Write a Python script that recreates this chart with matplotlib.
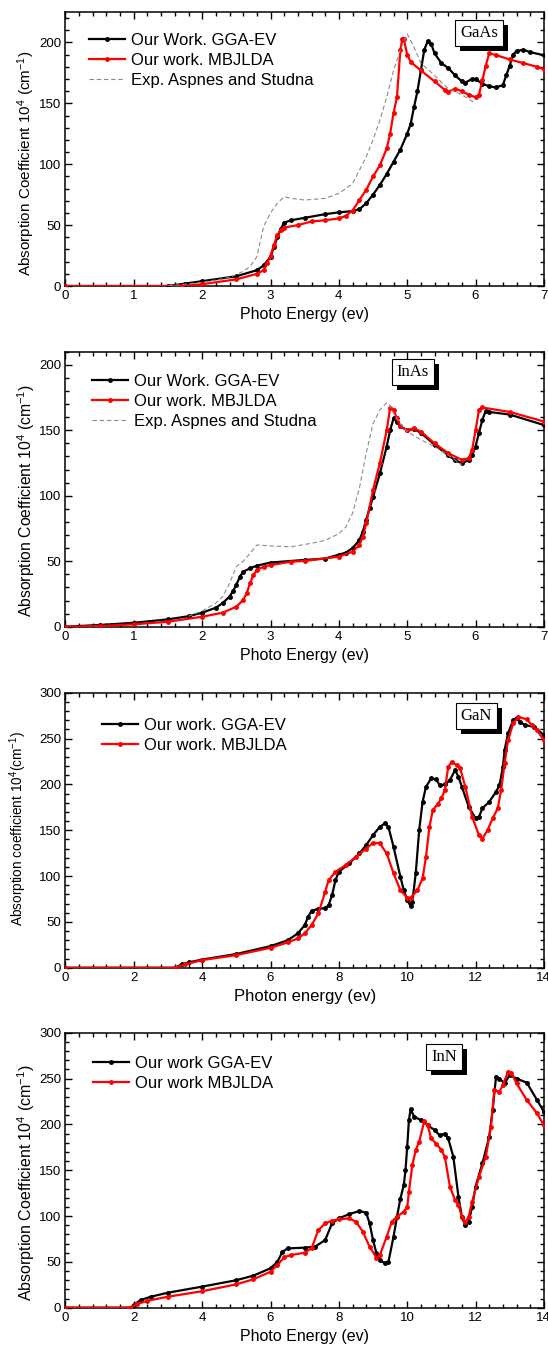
import matplotlib
matplotlib.use('Agg')
import matplotlib.pyplot as plt
from matplotlib.ticker import MultipleLocator
from matplotlib.patches import Rectangle
from matplotlib.transforms import IdentityTransform

plt.rcParams['font.family'] = ['Liberation Sans', 'DejaVu Sans']
plt.rcParams['mathtext.fontset'] = 'custom'
plt.rcParams['mathtext.rm'] = 'Liberation Sans'
plt.rcParams['mathtext.it'] = 'Liberation Sans:italic'

# ---- GaAs ----
gaas_gga_x = [0, 1.5, 1.75, 2.0, 2.5, 2.8, 2.9, 3.0, 3.05, 3.1, 3.15, 3.2, 3.3, 3.5, 3.8, 4.0, 4.2, 4.3,
              4.4, 4.5, 4.6, 4.7, 4.8, 4.9, 5.0, 5.05, 5.1, 5.15, 5.2, 5.25, 5.3, 5.35, 5.4, 5.5, 5.6,
              5.7, 5.8, 5.85, 5.95, 6.0, 6.1, 6.2, 6.3, 6.4, 6.45, 6.5, 6.55, 6.6, 6.7, 6.8, 7.0]
gaas_gga_y = [0, 0, 2, 4, 8, 13, 17, 24, 32, 40, 47, 52, 54, 56, 59, 60.5, 61.5, 63,
              68, 75, 83, 92, 102, 112, 125, 133, 147, 160, 177, 194, 201, 199, 191, 183, 179,
              173, 168, 167, 170, 170, 166, 164, 163, 165, 173, 181, 190, 193, 194, 192, 189.5]
gaas_mbj_x = [0, 1.7, 2.0, 2.5, 2.8, 2.9, 2.95, 3.0, 3.05, 3.1, 3.15, 3.2, 3.4, 3.6, 3.8, 4.0,
              4.1, 4.2, 4.3, 4.4, 4.5, 4.6, 4.7, 4.75, 4.8, 4.85, 4.9, 4.93, 4.95, 5.0, 5.05, 5.2,
              5.4, 5.55, 5.6, 5.7, 5.8, 5.9, 6.0, 6.05, 6.1, 6.15, 6.2, 6.3, 6.5, 6.7, 6.9, 7.0]
gaas_mbj_y = [0, 0, 1.5, 5.5, 10, 13, 18.5, 25, 33.6, 42, 46, 48, 50, 53, 54, 55.5,
              57.5, 62, 70.6, 79, 90, 99, 113, 125, 142, 155, 194, 203, 202.5, 190, 184, 177,
              168, 161, 159.5, 162, 160, 157, 155, 157, 169, 181, 191, 189.6, 186, 183, 180, 178]
gaas_exp_x = [1.5, 2.0, 2.2, 2.4, 2.6, 2.7, 2.8, 2.9, 3.0, 3.1, 3.2, 3.3, 3.5, 3.8, 4.0, 4.2,
              4.4, 4.5, 4.6, 4.7, 4.8, 4.9, 5.0, 5.1, 5.2, 5.4, 5.6, 5.8, 6.0]
gaas_exp_y = [0, 3, 5, 7, 12, 16, 24, 49, 60, 68, 73.3, 72, 70.6, 72, 76, 84,
              106, 120, 136, 155, 177, 194, 207, 196, 183, 173, 162, 157, 150]

# ---- InAs ----
inas_gga_x = [0, 0.5, 1.0, 1.5, 1.8, 2.0, 2.2, 2.3, 2.4, 2.45, 2.5, 2.55, 2.6, 2.7, 2.8, 3.0,
              3.5, 3.8, 4.0, 4.1, 4.2, 4.3, 4.35, 4.4, 4.45, 4.5, 4.6, 4.7, 4.75, 4.8, 4.85, 4.9,
              5.0, 5.1, 5.2, 5.4, 5.6, 5.7, 5.8, 5.9, 5.95, 6.0, 6.05, 6.1, 6.15, 6.2, 6.5, 7.0]
inas_gga_y = [0, 1.3, 3, 5.6, 8, 10.7, 14.5, 18, 23, 27, 32, 38, 42, 44.6, 46.6, 49,
              51, 52, 55, 56.5, 60, 66, 72.6, 81.5, 90.4, 99, 117, 137.6, 150, 159, 156.7, 153,
              150, 151, 148, 139, 131, 127, 125, 127, 131, 137.6, 148, 158, 165, 164, 162, 154]
inas_mbj_x = [0, 0.5, 1.0, 1.5, 2.0, 2.3, 2.5, 2.6, 2.65, 2.7, 2.75, 2.8, 2.9, 3.0, 3.3, 3.5,
              4.0, 4.2, 4.3, 4.35, 4.4, 4.5, 4.6, 4.7, 4.75, 4.8, 4.85, 4.9, 5.0, 5.1, 5.2, 5.4,
              5.6, 5.8, 5.9, 5.95, 6.0, 6.05, 6.1, 6.5, 7.0]
inas_mbj_y = [0, 0.5, 1.8, 3.8, 7.6, 10.7, 15.3, 20.4, 25.5, 33, 39.5, 43.3, 45.9, 47, 49.7, 50.2,
              53.5, 57.3, 62.4, 68.8, 79, 104.5, 125, 150, 167, 165.6, 159, 153, 150, 151.6, 149, 140,
              132.5, 127.4, 128.7, 135, 150, 165.6, 167.4, 164, 156.7]
inas_exp_x = [1.8, 2.0, 2.2, 2.3, 2.4, 2.5, 2.6, 2.7, 2.8, 3.0, 3.3, 3.6, 3.8, 4.0, 4.1, 4.2,
              4.3, 4.4, 4.5, 4.6, 4.7, 4.75, 4.8, 4.9, 5.0, 5.2, 5.4, 5.6, 5.8]
inas_exp_y = [8, 12, 18, 23, 33, 46, 50, 56, 62.4, 61.7, 61, 63.7, 66, 71, 76, 86.6,
              105.7, 132.5, 155, 165.6, 171, 169, 163, 155, 149, 142.7, 137.6, 131, 123.6]

# ---- GaN ----
gan_gga_x = [0, 3.2, 3.4, 3.6, 4.0, 5.0, 6.0, 6.5, 6.8, 7.0, 7.1, 7.2, 7.4, 7.6, 7.7, 7.8, 7.9,
             8.0, 8.3, 8.6, 8.8, 9.0, 9.2, 9.35, 9.45, 9.6, 9.8, 9.9, 10.0, 10.1, 10.15, 10.25,
             10.35, 10.45, 10.55, 10.7, 10.85, 10.95, 11.1, 11.25, 11.4, 11.5, 11.6, 11.8, 12.0,
             12.1, 12.2, 12.4, 12.6, 12.7, 12.8, 12.85, 12.95, 13.1, 13.2, 13.3, 13.45, 13.7, 14.0]
gan_gga_y = [0, 0, 3.6, 5.8, 9, 15, 23.6, 30, 37.5, 46.5, 55.6, 62, 64.4, 65, 68.4, 79, 95.6,
             104.7, 113.8, 124.7, 133.8, 144.7, 153.8, 157.5, 153.8, 132, 99.3, 84.7, 73.8, 67.3, 72, 103,
             150, 181, 197.5, 206.5, 205.5, 199, 200, 204.7, 215.6, 208.4, 197.5, 175.6, 163,
             164.7, 174, 181, 192, 199, 219, 237.5, 255.6, 270, 272.7, 268, 264.7, 263, 254]
gan_mbj_x = [0, 3.2, 3.5, 4.0, 5.0, 6.0, 6.5, 6.8, 7.0, 7.2, 7.4, 7.6, 7.7, 7.9, 8.2, 8.5, 8.8,
             9.0, 9.2, 9.4, 9.6, 9.8, 10.0, 10.1, 10.3, 10.45, 10.55, 10.65, 10.75, 10.9, 11.0,
             11.1, 11.2, 11.3, 11.45, 11.55, 11.7, 11.9, 12.1, 12.2, 12.35, 12.5, 12.65, 12.75,
             12.85, 12.95, 13.1, 13.25, 13.5, 13.65, 13.8, 14.0]
gan_mbj_y = [0, 0, 3.6, 8.4, 13.8, 21.8, 27.6, 32, 37.5, 46.5, 59.3, 83, 95.6, 104.7, 112, 121, 130,
             136.4, 135.6, 124.7, 103, 84.7, 76.4, 76.4, 84.7, 97.5, 121, 153.8, 172, 179, 184.7,
             193.8, 219, 224.7, 221, 217.5, 197.5, 164.7, 144.7, 141, 150, 163, 174, 194,
             223, 248, 266.5, 273.8, 271, 264.7, 259, 248.4]

# ---- InN ----
inn_gga_x = [0, 1.9, 2.0, 2.2, 2.5, 3.0, 4.0, 5.0, 5.5, 6.0, 6.2, 6.35, 6.5, 7.0, 7.3, 7.6, 7.8,
             8.0, 8.3, 8.6, 8.8, 8.9, 9.0, 9.1, 9.2, 9.35, 9.45, 9.6, 9.7, 9.8, 9.9, 9.95, 10.0,
             10.05, 10.1, 10.2, 10.4, 10.6, 10.8, 10.95, 11.1, 11.2, 11.35, 11.5, 11.6, 11.7, 11.8,
             11.9, 12.0, 12.2, 12.4, 12.5, 12.6, 12.7, 12.85, 13.0, 13.2, 13.5, 13.8, 14.0]
inn_gga_y = [0, 0, 3, 8.4, 12, 16.4, 23, 30, 35, 43, 50, 61, 64.7, 65.5, 66.5, 73.8, 92,
             97.5, 102, 105.5, 103.6, 92, 73.8, 59.3, 52, 48.4, 50, 77.5, 99, 119, 133.8, 150, 175.6,
             204.7, 216.7, 208.4, 204.7, 199, 193.8, 188, 189.8, 184.7, 164.7, 121, 99, 90, 93.8,
             110, 132, 157.5, 186.5, 215.6, 252, 250, 244.7, 253.8, 250, 245.5, 226.5, 213.8]
inn_mbj_x = [0, 1.9, 2.1, 2.4, 3.0, 4.0, 5.0, 5.5, 6.0, 6.2, 6.4, 6.6, 7.0, 7.2, 7.4, 7.6, 7.8,
             8.0, 8.3, 8.5, 8.7, 8.9, 9.1, 9.2, 9.4, 9.55, 9.7, 9.9, 10.0, 10.05, 10.15, 10.25,
             10.35, 10.5, 10.6, 10.7, 10.85, 11.0, 11.1, 11.25, 11.4, 11.5, 11.6, 11.7, 11.8, 11.9,
             12.1, 12.3, 12.45, 12.55, 12.7, 12.8, 12.95, 13.05, 13.2, 13.5, 13.8, 14.0]
inn_mbj_y = [0, 0, 4, 7.6, 12, 18, 25.5, 31, 39.3, 46.5, 55, 57.5, 60, 64.7, 84.7, 92, 95,
             96.4, 97.5, 93.8, 83, 66.5, 54.5, 57.5, 77.5, 93.8, 99.3, 104.7, 110, 126.5, 155.6, 172,
             181, 203.6, 199, 184.7, 179, 172, 164.7, 132, 117.5, 112, 99.3, 93, 99.3, 115.6,
             143, 164.7, 197.5, 237.5, 235.6, 243, 257.5, 256.4, 244.7, 226.5, 212, 199]


def setup_axis(ax, xmax, xmajor, xminor, ymax, ylabel, xlabel, ylabel_pos, ylabel_size, xlabel_size=11.5):
    ax.set_xlim(0, xmax)
    ax.set_ylim(0, ymax)
    ax.xaxis.set_major_locator(MultipleLocator(xmajor))
    ax.xaxis.set_minor_locator(MultipleLocator(xminor))
    ax.yaxis.set_major_locator(MultipleLocator(50))
    ax.yaxis.set_minor_locator(MultipleLocator(10))
    ax.tick_params(which='both', direction='in', top=True, right=True, labelsize=9.5, width=1, pad=3)
    ax.tick_params(which='major', length=5)
    ax.tick_params(which='minor', length=3)
    for s in ax.spines.values():
        s.set_linewidth(1.1)
    ax.set_ylabel(ylabel, fontsize=ylabel_size)
    ax.yaxis.set_label_coords(*ylabel_pos)
    ax.set_xlabel(xlabel, fontsize=xlabel_size, labelpad=3.5)


tags = []


def tag(ax, text, x, y):
    t = ax.text(x, y, text, transform=ax.transAxes, ha='center', va='center', fontsize=12,
                family='Liberation Serif', color='black',
                bbox=dict(boxstyle='square,pad=0.3', fc='white', ec='black', lw=0.8), zorder=6)
    tags.append((ax, t))


def add_shadows(fig, dx=5, dy=5):
    # solid black drop shadow behind each label box, placed in pixel space
    fig.canvas.draw()
    for ax, t in tags:
        bb = t.get_bbox_patch().get_window_extent()
        ax.add_patch(Rectangle((bb.x0 + dx, bb.y0 - dy), bb.width, bb.height,
                               transform=IdentityTransform(), fc='black', ec='none',
                               clip_on=False, zorder=5))


def draw(ax, x, y, color, label):
    ax.plot(x, y, color=color, lw=1.6, marker='o', ms=2.5, label=label, zorder=3)


def legend(ax, anchor):
    ax.legend(loc='upper left', bbox_to_anchor=anchor, frameon=False, fontsize=12,
              handlelength=2.15, handletextpad=0.4, labelspacing=0.3,
              borderpad=0, borderaxespad=0, numpoints=1)


fig = plt.figure(figsize=(5.48, 13.46), dpi=100)
left, width = 0.1195, 0.873
height = 0.2043

ylab_cap = 'Absorption Coefficient 10$^4$ (cm$^{-1}$)'

# GaAs
ax1 = fig.add_axes([left, 0.7875, width, 0.2036])
draw(ax1, gaas_gga_x, gaas_gga_y, 'black', 'Our Work. GGA-EV')
draw(ax1, gaas_mbj_x, gaas_mbj_y, '#ff0000', 'Our work. MBJLDA')
ax1.plot(gaas_exp_x, gaas_exp_y, color='#8a8a8a', lw=0.8, dashes=(4, 2.5),
         label='Exp. Aspnes and Studna', zorder=4)
setup_axis(ax1, 7, 1, 0.2, 225, ylab_cap, 'Photo Energy (ev)', (-0.059, 0.447), 11)
legend(ax1, (0.049, 0.924))
tag(ax1, 'GaAs', 0.864, 0.925)

# InAs
ax2 = fig.add_axes([left, 0.5344, width, height])
draw(ax2, inas_gga_x, inas_gga_y, 'black', 'Our Work. GGA-EV')
draw(ax2, inas_mbj_x, inas_mbj_y, '#ff0000', 'Our work. MBJLDA')
ax2.plot(inas_exp_x, inas_exp_y, color='#8a8a8a', lw=0.8, dashes=(4, 2.5),
         label='Exp. Aspnes and Studna', zorder=4)
setup_axis(ax2, 7, 1, 0.2, 210, ylab_cap, 'Photo Energy (ev)', (-0.059, 0.459), 11.3)
legend(ax2, (0.055, 0.918))
tag(ax2, 'InAs', 0.726, 0.928)

# GaN
ax3 = fig.add_axes([left, 0.2810, width, height])
draw(ax3, gan_gga_x, gan_gga_y, 'black', 'Our work. GGA-EV')
draw(ax3, gan_mbj_x, gan_mbj_y, '#ff0000', 'Our work. MBJLDA')
setup_axis(ax3, 14, 2, 0.4, 300, 'Absorption coefficient 10$^4$(cm$^{-1}$)',
           'Photon energy (ev)', (-0.076, 0.506), 9.8, xlabel_size=12)
legend(ax3, (0.076, 0.909))
tag(ax3, 'GaN', 0.859, 0.917)

# InN
ax4 = fig.add_axes([left, 0.02845, width, height])
draw(ax4, inn_gga_x, inn_gga_y, 'black', 'Our work GGA-EV')
draw(ax4, inn_mbj_x, inn_mbj_y, '#ff0000', 'Our work MBJLDA')
setup_axis(ax4, 14, 2, 0.4, 300, ylab_cap, 'Photo Energy (ev)', (-0.06, 0.455), 11.5)
legend(ax4, (0.057, 0.917))
tag(ax4, 'InN', 0.791, 0.912)

add_shadows(fig)
fig.savefig('out.png', dpi=100)
